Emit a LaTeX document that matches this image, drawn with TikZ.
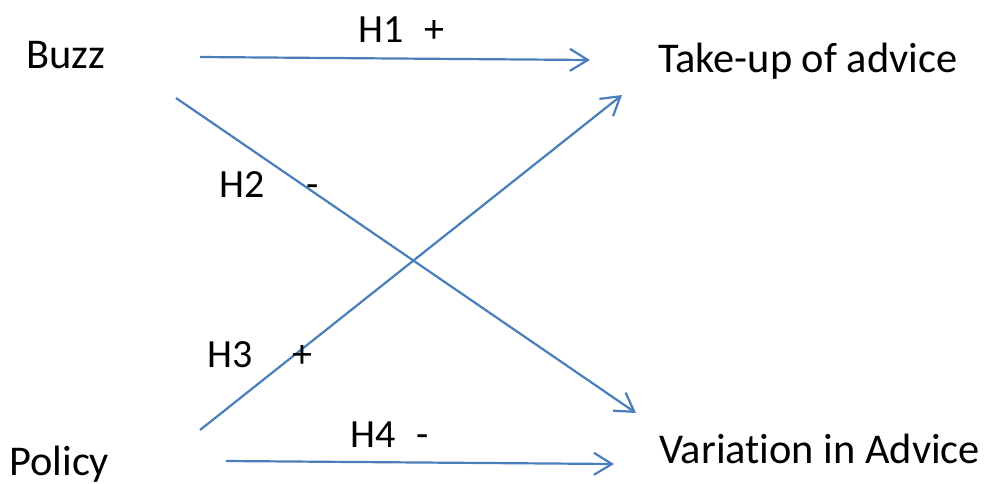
\documentclass[tikz,border=0pt]{standalone}
\usepackage{fontspec}
\setmainfont[Ligatures={NoCommon}]{Carlito}
\usetikzlibrary{arrows.meta}
\definecolor{arrowblue}{HTML}{4A7EBB}
\tikzset{
  lbl/.style={anchor=base west, inner sep=0pt, font=\fontsize{42.4}{50}\selectfont},
  hyp/.style={anchor=base west, inner sep=0pt, font=\fontsize{40}{48}\selectfont},
  link/.style={draw=arrowblue, line width=2.2pt, -{Straight Barb[length=18pt,width=22pt,line width=2.2pt]}}
}
\begin{document}
\begin{tikzpicture}[x=1pt,y=-1pt]
\useasboundingbox[fill=white] (0,0) rectangle (985,483);
\node[lbl] (buzz) at (26,68) {Buzz};
\node[lbl] (take) at (658,72) {Take-up of advice};
\node[lbl] (var) at (659,463) {Variation in Advice};
\node[lbl] (pol) at (9,475) {Policy};
\coordinate (a1s) at (200,57);
\coordinate (a1e) at (590,60);
\coordinate (a2s) at (176,98);
\coordinate (a2e) at (636,413);
\coordinate (a3s) at (200,430);
\coordinate (a3e) at (622,95);
\coordinate (a4s) at (226,461);
\coordinate (a4e) at (614,464);
\draw[link] (a1s) -- (a1e);
\draw[link] (a2s) -- (a2e);
\draw[link] (a3s) -- (a3e);
\draw[link] (a4s) -- (a4e);
\node[hyp] (h1) at (358,42) {H1};
\node[hyp] (h1s) at (424,42) {+};
\node[hyp] (h2) at (219,197) {H2};
\node[hyp] (h2s) at (306,197) {-};
\node[hyp] (h3) at (207,367) {H3};
\node[hyp] (h3s) at (292,367) {+};
\node[hyp] (h4) at (350,447) {H4};
\node[hyp] (h4s) at (416,447) {-};
\end{tikzpicture}
\end{document}
